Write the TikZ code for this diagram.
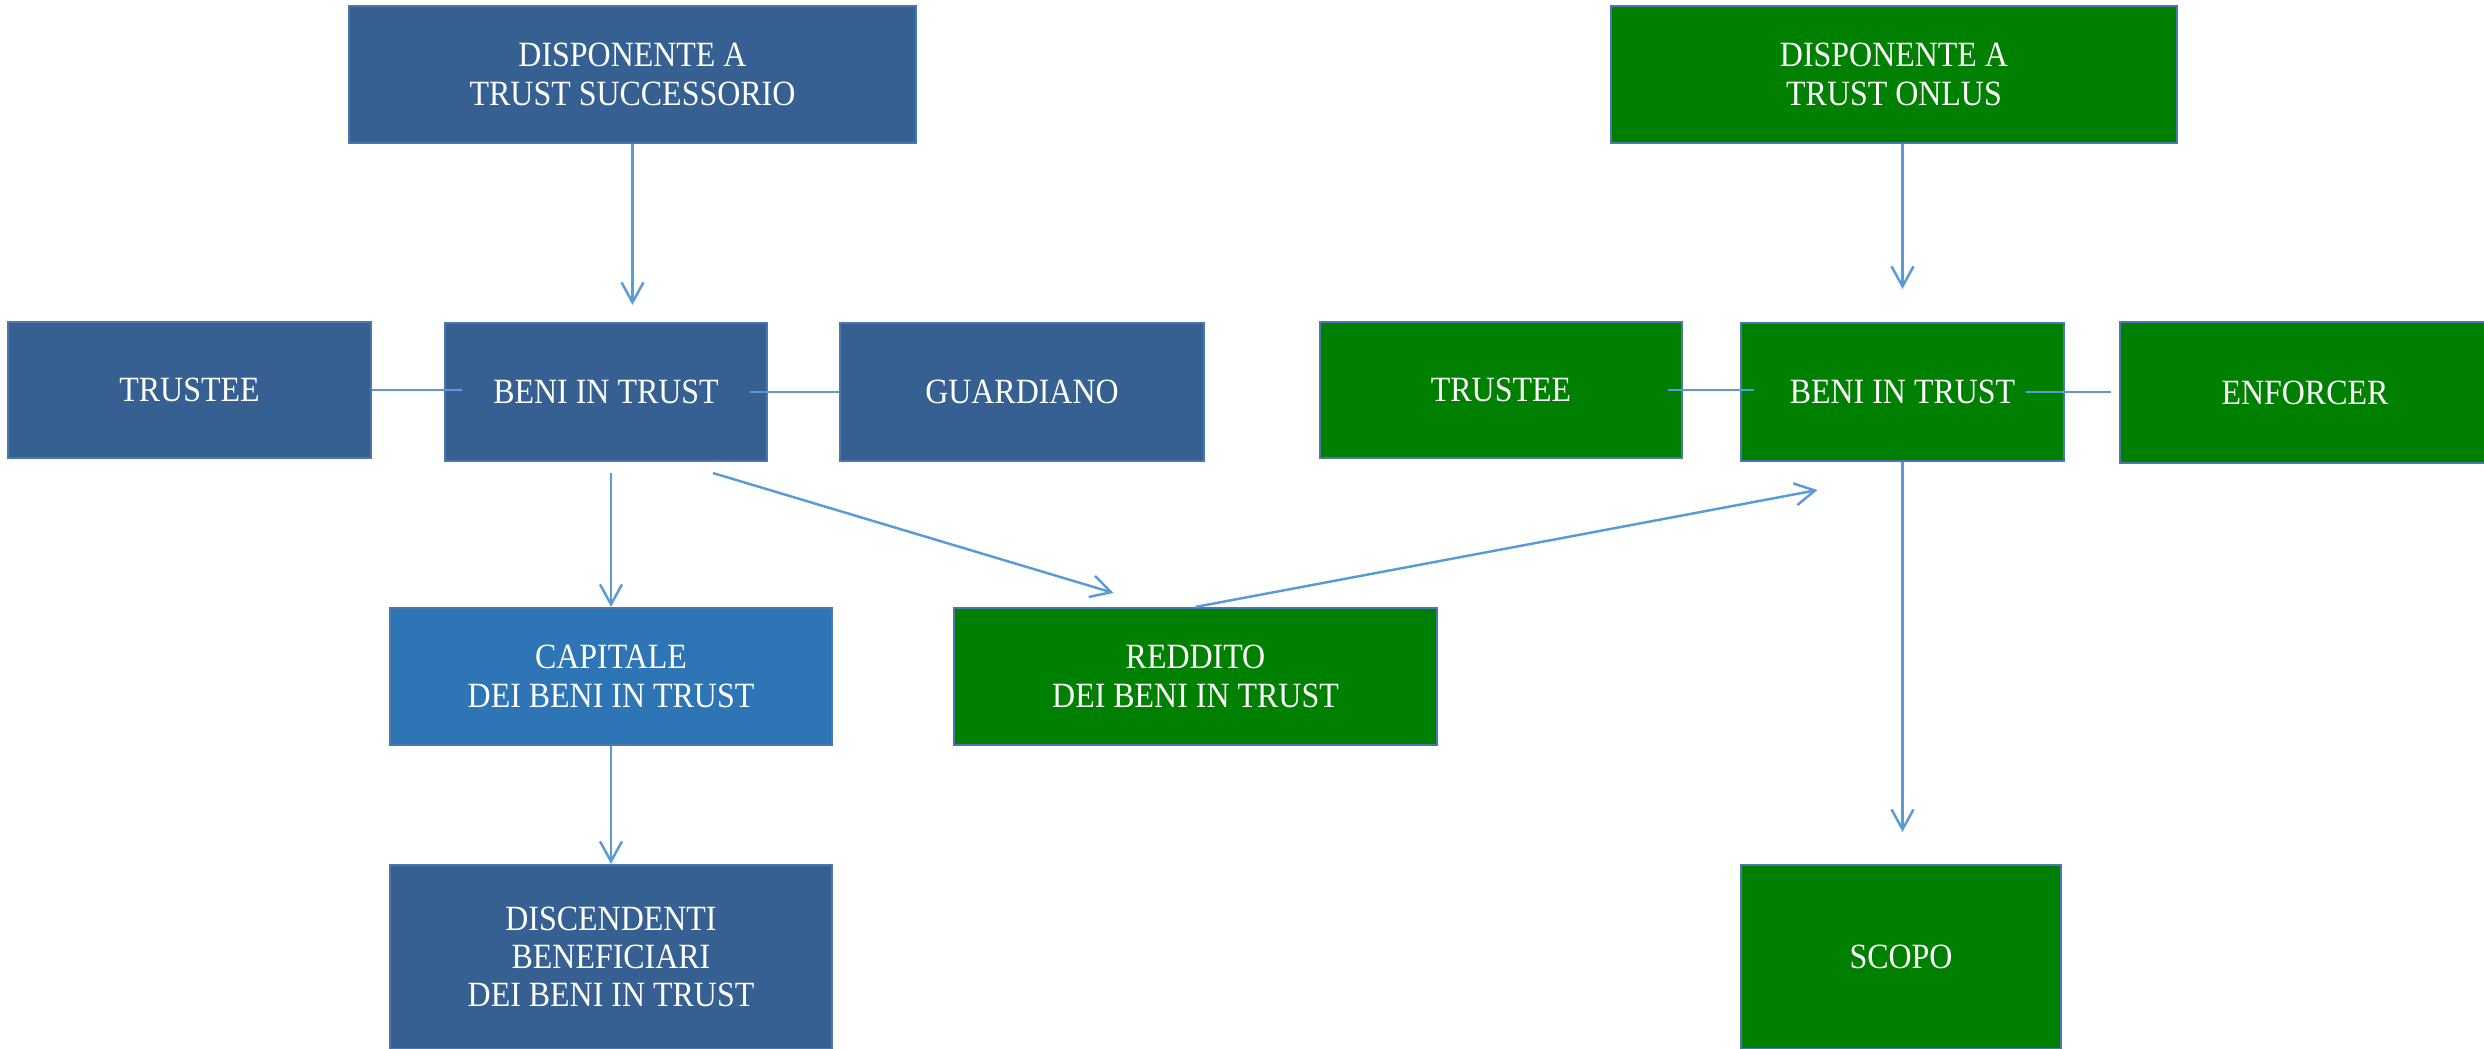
\documentclass[tikz,border=0pt]{standalone}
\usepackage{fontspec}
\setmainfont{Liberation Serif}[FakeStretch=0.9]
\usepackage{xcolor}
\usetikzlibrary{arrows.meta}
\definecolor{trustblue}{HTML}{376092}
\definecolor{capblue}{HTML}{2E75B6}
\definecolor{onlusgreen}{HTML}{008000}
\definecolor{boxedge}{HTML}{4A78AC}
\definecolor{linkblue}{HTML}{5B9BD5}

\begin{document}
\begin{tikzpicture}[>={Straight Barb[length=2mm,width=2.2mm]},
  box/.style={draw=boxedge,line width=0.6pt,text=white,align=center,inner sep=0pt,
    font=\fontsize{10.1}{10.9}\selectfont},
  bluebox/.style={box,fill=trustblue},
  capbox/.style={box,fill=capblue},
  greenbox/.style={box,fill=onlusgreen},
  link/.style={draw=linkblue,line width=0.7pt}]
\useasboundingbox (0,0) rectangle (24.84,-10.49);
% trust successorio
\node[bluebox,minimum width=5.67cm,minimum height=1.37cm] (dispSucc) at (6.325,-0.745) {DISPONENTE A\\TRUST SUCCESSORIO};
\node[bluebox,minimum width=3.63cm,minimum height=1.36cm] (trusteeL) at (1.895,-3.90) {TRUSTEE};
\node[bluebox,minimum width=3.22cm,minimum height=1.38cm] (beniL) at (6.06,-3.92) {BENI IN TRUST};
\node[bluebox,minimum width=3.64cm,minimum height=1.38cm] (guardiano) at (10.22,-3.92) {GUARDIANO};
\node[capbox,minimum width=4.42cm,minimum height=1.37cm] (capitale) at (6.11,-6.765) {CAPITALE\\DEI BENI IN TRUST};
\node[greenbox,minimum width=4.83cm,minimum height=1.37cm] (reddito) at (11.955,-6.765) {REDDITO\\DEI BENI IN TRUST};
\node[bluebox,minimum width=4.42cm,minimum height=1.84cm] (discendenti) at (6.11,-9.57) {DISCENDENTI\\BENEFICIARI\\DEI BENI IN TRUST};
% trust onlus
\node[greenbox,minimum width=5.66cm,minimum height=1.37cm] (dispOnlus) at (18.94,-0.745) {DISPONENTE A\\TRUST ONLUS};
\node[greenbox,minimum width=3.62cm,minimum height=1.36cm] (trusteeR) at (15.01,-3.90) {TRUSTEE};
\node[greenbox,minimum width=3.23cm,minimum height=1.38cm] (beniR) at (19.025,-3.92) {BENI IN TRUST};
\node[greenbox,minimum width=3.70cm,minimum height=1.41cm] (enforcer) at (23.05,-3.925) {ENFORCER};
\node[greenbox,minimum width=3.20cm,minimum height=1.84cm] (scopo) at (19.01,-9.57) {SCOPO};

\draw[link,->,shorten >=1.7mm] (dispSucc.south) -- (dispSucc.south |- beniL.north);
\draw[link,shorten >=-1.8mm] (trusteeL.east) -- (trusteeL.east -| beniL.west);
\draw[link,shorten <=-1.8mm] (beniL.east) -- (beniL.east -| guardiano.west);
\draw[link,->,shorten <=1.1mm] (capitale.north |- beniL.south) -- (capitale.north);
\draw[link,->] ([xshift=1.07cm,yshift=-1.1mm]beniL.south) -- ([xshift=-8.2mm,yshift=1.4mm]reddito.north);
\draw[link,->] (reddito.north) -- ([xshift=-8.5mm,yshift=-2.8mm]beniR.south);
\draw[link,->] (capitale.south) -- (discendenti.north);
\draw[link,->,shorten >=3.3mm] (beniR.north |- dispOnlus.south) -- (beniR.north);
\draw[link,shorten <=-1.5mm,shorten >=-1.4mm] (trusteeR.east) -- (trusteeR.east -| beniR.west);
\draw[link,shorten <=-3.9mm,shorten >=0.8mm] (beniR.east) -- (beniR.east -| enforcer.west);
\draw[link,->,shorten >=3.2mm] (beniR.south) -- (beniR.south |- scopo.north);
\end{tikzpicture}
\end{document}
